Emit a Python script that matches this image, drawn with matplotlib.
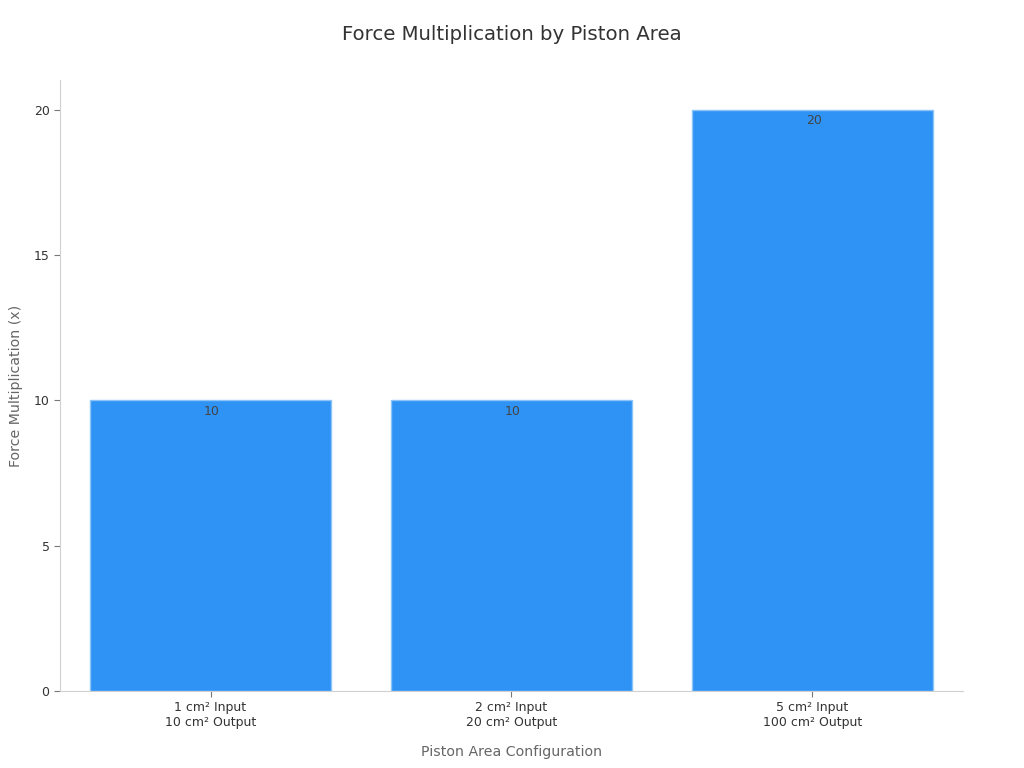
import matplotlib
matplotlib.use("Agg")
from matplotlib import pyplot as plt

categories = ["1 cm² Input\n10 cm² Output", "2 cm² Input\n20 cm² Output", "5 cm² Input\n100 cm² Output"]
multiplication = [10, 10, 20]

fig = plt.figure(figsize=(10.24, 7.68), dpi=100)
ax = fig.add_axes([0.0586, 0.1003, 0.8818, 0.7955])

x = list(range(len(categories)))
bars = ax.bar(x, multiplication, width=0.8, color="#2f93f6", edgecolor="#8cc4f8", linewidth=1)

for b, v in zip(bars, multiplication):
    ax.text(b.get_x() + b.get_width() / 2 + 0.005, v - 0.15, str(v), ha="center", va="top",
            fontsize=9, color="#444444")

ax.set_xlim(-0.5, 2.5)
ax.set_ylim(0, 21.03)
ax.set_yticks([0, 5, 10, 15, 20])
ax.set_xticks(x)
ax.set_xticklabels(categories)

for side in ["top", "right"]:
    ax.spines[side].set_visible(False)
for side in ["left", "bottom"]:
    ax.spines[side].set_color("#d0d0d0")
ax.tick_params(axis="both", colors="#777777", labelcolor="#333333", labelsize=9, length=4)

ax.set_xlabel("Piston Area Configuration", fontsize=10.2, color="#666666", labelpad=11)
ax.set_ylabel("Force Multiplication (x)", fontsize=10.2, color="#666666", labelpad=8)
fig.suptitle("Force Multiplication by Piston Area", fontsize=14.2, color="#333333", y=0.968)

fig.savefig("out.png", dpi=100)
